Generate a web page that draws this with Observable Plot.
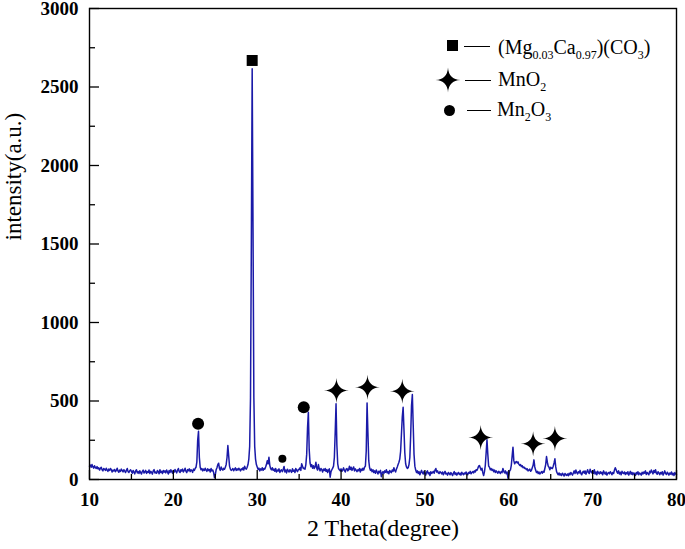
<!DOCTYPE html>
<html>
<head>
<meta charset="utf-8">
<script src="https://cdn.jsdelivr.net/npm/d3@7"></script>
<script src="https://cdn.jsdelivr.net/npm/@observablehq/plot@0.6"></script>
<style>
  body { margin: 0; background: #fff; }
  #wrap { position: relative; width: 685px; height: 549px; }
  #wrap svg { display: block; }
  .lg { position: absolute; white-space: nowrap; font-family: "Liberation Serif", "Times New Roman", serif; font-size: 20px; line-height: 20px; color: #000; }
  .lg sub { font-size: 12px; vertical-align: -5px; line-height: 0; }
  .sym { position: absolute; background: #000; }
  .ln { position: absolute; height: 1.3px; background: #000; }
</style>
</head>
<body>
<div id="wrap"></div>
<script>
// ---- scan (2θ from 10° to 80°, step 0.1°) ----
const thetaStart = 10;
const thetaStep = 0.1;
const intensity = [
  85, 92, 78, 95, 80, 72, 88, 76, 70, 82,
  68, 75, 60, 72, 78, 62, 55, 70, 65, 58,
  72, 60, 52, 66, 58, 70, 62, 48, 60, 55,
  64, 50, 58, 72, 54, 46, 60, 52, 66, 57,
  48, 62, 55, 44, 58, 70, 50, 45, 56, 62,
  52, 40, 58, 47, 36, 55, 62, 42, 50, 38,
  56, 44, 35, 52, 60, 41, 48, 58, 39, 50,
  45, 60, 38, 52, 46, 34, 55, 63, 42, 48,
  40, 57, 50, 36, 62, 44, 52, 38, 58, 47,
  55, 42, 60, 48, 35, 57, 44, 62, 50, 40,
  58, 47, 64, 52, 42, 60, 70, 50, 45, 62,
  54, 66, 48, 58, 72, 52, 44, 63, 56, 68,
  50, 62, 57, 45, 66, 58, 70, 78, 110, 250,
  307, 140, 78, 62, 70, 55, 66, 58, 72, 60,
  52, 68, 57, 63, 48, 70, 55, 60, 45, 12,
  30, 62, 75, 95, 104, 70, 58, 80, 66, 60,
  72, 65, 78, 96, 140, 216, 150, 85, 66, 58,
  62, 70, 56, 66, 74, 58, 68, 60, 72, 64,
  55, 68, 62, 75, 60, 85, 70, 66, 78, 95,
  130, 210, 520, 1500, 2616, 1600, 520, 210, 130, 95,
  80, 65, 72, 55, 68, 60, 75, 58, 70, 66,
  80, 95, 120, 100, 142, 90, 70, 62, 75, 58,
  66, 52, 70, 48, 60, 55, 68, 45, 58, 62,
  50, 64, 83, 48, 60, 42, 66, 55, 48, 62,
  55, 45, 68, 52, 60, 44, 70, 58, 50, 64,
  62, 75, 58, 100, 85, 70, 72, 66, 95, 160,
  330, 429, 190, 105, 82, 95, 72, 88, 70, 80,
  110, 72, 60, 95, 68, 55, 70, 62, 48, 66,
  58, 70, 52, 64, 45, 60, 68, 15, 50, 62,
  72, 85, 140, 300, 482, 220, 100, 70, 62, 55,
  68, 52, 60, 74, 58, 48, 66, 70, 55, 62,
  85, 64, 78, 58, 70, 80, 55, 68, 60, 50,
  62, 56, 70, 48, 66, 58, 72, 60, 78, 85,
  180, 488, 300, 120, 75, 58, 66, 50, 62, 45,
  55, 40, 60, 48, 35, 52, 44, 58, 18, 40,
  50, 38, 55, 46, 62, 42, 50, 36, 58, 48,
  44, 60, 52, 75, 58, 48, 66, 80, 95, 110,
  130, 180, 290, 400, 460, 320, 170, 100, 80, 70,
  75, 95, 140, 280, 470, 541, 350, 160, 85, 60,
  45, 55, 38, 50, 30, 46, 58, 42, 35, 52,
  40, 28, 48, 55, 36, 44, 25, 50, 38, 45,
  52, 40, 60, 70, 48, 55, 42, 38, 50, 44,
  36, 48, 30, 42, 52, 35, 40, 28, 45, 38,
  30, 44, 36, 25, 40, 50, 32, 42, 28, 38,
  45, 32, 40, 28, 46, 36, 30, 42, 35, 48,
  38, 30, 45, 40, 52, 36, 44, 50, 42, 55,
  48, 62, 58, 70, 85, 89, 75, 60, 72, 45,
  25, 50, 90, 170, 253, 160, 85, 78, 62, 70,
  58, 65, 50, 60, 45, 55, 48, 40, 52, 46,
  38, 50, 44, 70, 52, 42, 55, 36, 48, 8,
  30, 55, 62, 90, 150, 206, 120, 100, 110, 115,
  105, 112, 98, 90, 95, 82, 88, 75, 80, 70,
  72, 62, 68, 55, 60, 66, 52, 58, 75, 90,
  125, 80, 60, 45, 52, 38, 48, 35, 42, 50,
  40, 52, 46, 70, 95, 146, 110, 85, 78, 62,
  78, 72, 70, 85, 105, 132, 80, 50, 38, 30,
  42, 28, 36, 25, 40, 32, 22, 38, 30, 26,
  35, 24, 40, 30, 45, 36, 28, 42, 55, 38,
  60, 45, 35, 50, 42, 58, 38, 30, 46, 52,
  40, 55, 34, 48, 62, 45, 38, 66, 50, 42,
  55, 40, 62, 35, 48, 30, 52, 42, 36, 50,
  38, 46, 30, 55, 42, 34, 48, 28, 40, 45,
  36, 50, 42, 30, 45, 38, 60, 75, 62, 48,
  40, 55, 35, 46, 30, 52, 42, 38, 48, 32,
  44, 36, 50, 28, 40, 52, 34, 45, 30, 42,
  38, 26, 44, 35, 50, 30, 42, 36, 28, 46,
  35, 48, 40, 55, 32, 45, 38, 30, 52, 42,
  60, 48, 36, 58, 45, 62, 40, 34, 50, 42,
  30, 45, 36, 50, 28, 40, 55, 38, 32, 46,
  38, 28, 42, 34, 48, 30, 40, 25, 44, 35,
  30
];

// ---- phase markers ----
const carbonateTheta = [29.4];
const carbonateInt = [2669];
const mno2Theta = [39.45, 43.15, 47.3, 56.65, 62.9, 65.5];
const mno2Int = [567, 588, 562, 268, 228, 261];
const mn2o3Theta = [22.95, 35.55];
const mn2o3Int = [355, 460];
const mn2o3MinorTheta = [33.0];
const mn2o3MinorInt = [132];

// ---- ticks ----
const xMajorTicks = [10, 20, 30, 40, 50, 60, 70, 80];
const xMinorTicks = [15, 25, 35, 45, 55, 65, 75];
const yMajorTicks = [0, 500, 1000, 1500, 2000, 2500, 3000];
const yMinorTicks = [250, 750, 1250, 1750, 2250, 2750];

// ---- texts ----
const xTitle = "2 Theta(degree)";
const yTitle = "intensity(a.u.)";
const legendLabels = [
  "(Mg<sub>0.03</sub>Ca<sub>0.97</sub>)(CO<sub>3</sub>)",
  "MnO<sub>2</sub>",
  "Mn<sub>2</sub>O<sub>3</sub>"
];

// ---- build ----
const scan = intensity.map((v, i) => ({ theta: +(thetaStart + i * thetaStep).toFixed(2), intensity: v }));
const pts = (xs, ys) => xs.map((x, i) => ({ theta: x, intensity: ys[i] }));

const W = 685, H = 549, mL = 89, mR = 9, mT = 8, mB = 70;
const frameW = W - mL - mR, frameH = H - mT - mB;

const star = {
  draw(ctx, size) {
    const R = Math.sqrt(size / Math.PI), c = 0.05 * R;
    ctx.moveTo(R, 0);
    ctx.quadraticCurveTo(c, c, 0, R);
    ctx.quadraticCurveTo(-c, c, -R, 0);
    ctx.quadraticCurveTo(-c, -c, 0, -R);
    ctx.quadraticCurveTo(c, -c, R, 0);
    ctx.closePath();
  }
};

const serif = "Liberation Serif, Times New Roman, serif";
const lineColor = "#1a1aa8";

const chart = Plot.plot({
  width: W, height: H,
  marginLeft: mL, marginRight: mR, marginTop: mT, marginBottom: mB,
  x: { domain: [10, 80], label: null },
  y: { domain: [0, 3000], label: null },
  style: { fontFamily: serif, background: "white", color: "black" },
  marks: [
    Plot.line(scan, { x: "theta", y: "intensity", stroke: lineColor, strokeWidth: 1.5 }),
    Plot.tickY(yMajorTicks, { y: d => d, insetRight: frameW - 10, stroke: "black", strokeWidth: 1.3 }),
    Plot.tickY(yMinorTicks, { y: d => d, insetRight: frameW - 6, stroke: "black", strokeWidth: 1.3 }),
    Plot.tickX(xMajorTicks, { x: d => d, insetTop: frameH - 9, stroke: "black", strokeWidth: 1.3 }),
    Plot.tickX(xMinorTicks, { x: d => d, insetTop: frameH - 5, stroke: "black", strokeWidth: 1.3 }),
    Plot.axisX({ ticks: xMajorTicks, tickSize: 0, tickPadding: 13, label: null, fontSize: 19, fontWeight: "bold", fontFamily: serif, tickFormat: d => `${d}` }),
    Plot.axisY({ ticks: yMajorTicks, tickSize: 0, tickPadding: 11, label: null, fontSize: 19, fontWeight: "bold", fontFamily: serif, tickFormat: d => `${d}` }),
    Plot.frame({ stroke: "black", strokeWidth: 1.4 }),
    Plot.dot(pts(carbonateTheta, carbonateInt), { x: "theta", y: "intensity", symbol: "square", r: 6.2, fill: "black" }),
    Plot.dot(pts(mn2o3Theta, mn2o3Int), { x: "theta", y: "intensity", symbol: "circle", r: 6, fill: "black" }),
    Plot.dot(pts(mn2o3MinorTheta, mn2o3MinorInt), { x: "theta", y: "intensity", symbol: "circle", r: 4, fill: "black" }),
    Plot.dot(pts(mno2Theta, mno2Int), { x: "theta", y: "intensity", symbol: star, r: 12.5, fill: "black" }),
    Plot.text([xTitle], { text: d => d, frameAnchor: "bottom", dy: 56, fontSize: 24, fontFamily: serif, fill: "black" }),
    Plot.text([yTitle], { text: d => d, frameAnchor: "left", rotate: -90, dx: -75.4, dy: -3.5, fontSize: 23, fontFamily: serif, fill: "black" })
  ]
});

const wrap = document.getElementById("wrap");
wrap.appendChild(chart);

// ---- legend (HTML overlay) ----
function add(html) { wrap.insertAdjacentHTML("beforeend", html); }
// row 1: square
add(`<span class="sym" style="left:447px;top:40px;width:11px;height:11px"></span>`);
add(`<span class="ln" style="left:464px;top:45.5px;width:26px"></span>`);
add(`<span class="lg" style="left:498px;top:36.5px">${legendLabels[0]}</span>`);
// row 2: star
const sp = d3.path();
star.draw(sp, Math.PI * 12.5 * 12.5);
add(`<svg style="position:absolute;left:435px;top:67px;overflow:visible" width="26" height="26"><path transform="translate(13,13)" d="${sp.toString()}" fill="#000"/></svg>`);
add(`<span class="ln" style="left:465px;top:80px;width:26px"></span>`);
add(`<span class="lg" style="left:498px;top:69.3px">${legendLabels[1]}</span>`);
// row 3: circle
add(`<span class="sym" style="left:443.5px;top:104.5px;width:11px;height:11px;border-radius:50%"></span>`);
add(`<span class="ln" style="left:467px;top:110px;width:24px"></span>`);
add(`<span class="lg" style="left:497px;top:99.3px">${legendLabels[2]}</span>`);
</script>
</body>
</html>
